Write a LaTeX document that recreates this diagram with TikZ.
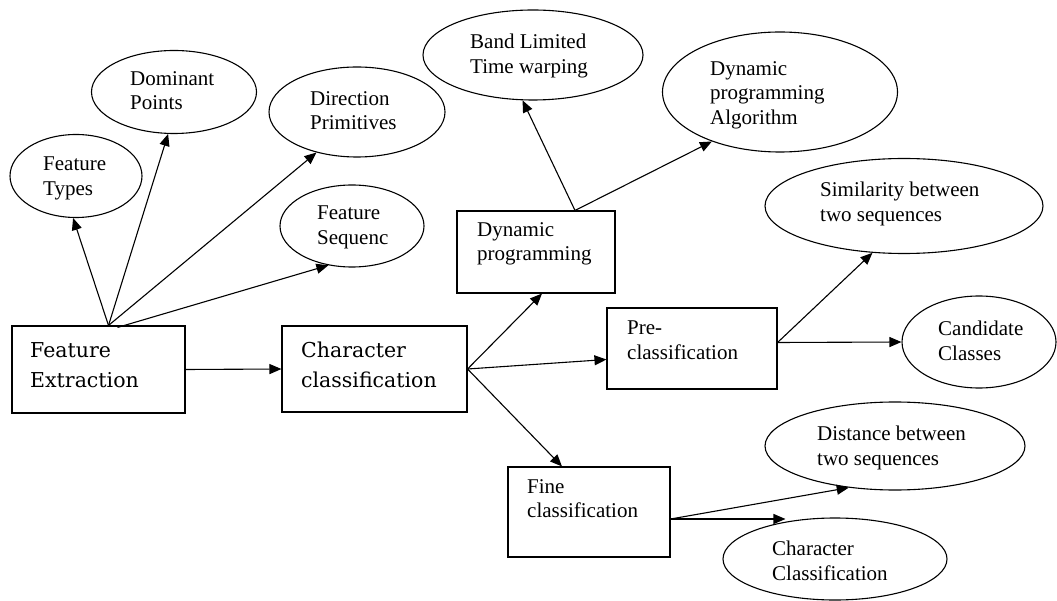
\documentclass[tikz,border=0pt]{standalone}
\usepackage{fontspec}
\setmainfont{Liberation Serif}
\newfontfamily\bigserif{DejaVu Serif}
\usetikzlibrary{shapes.geometric,arrows.meta}
\begin{document}
\begin{tikzpicture}[x=1pt,y=-1pt,
  ell/.style={draw, ellipse, line width=1.1pt, inner sep=0pt},
  boxn/.style={draw, rectangle, line width=1.1pt, inner sep=0pt},
  lbl/.style={anchor=north west, inner sep=0pt, align=left, font=\fontsize{21}{24.5}\selectfont},
  blbl/.style={anchor=north west, inner sep=0pt, align=left, font=\bigserif\fontsize{20.5}{30}\selectfont},
  arr/.style={-{Triangle[length=12pt,width=10pt]}, line width=1.1pt}]
\useasboundingbox (0,0) rectangle (1057,601);

% boxes
\node[boxn, minimum width=173pt, minimum height=87pt] (FE) at (98.5,369.5) {};
\node[blbl] (tFE) at (30,342) {Feature\\Extraction};
\node[boxn, minimum width=185pt, minimum height=86pt] (CC) at (374.5,369) {};
\node[blbl] (tCC) at (301,342) {Character\\classification};
\node[boxn, minimum width=158pt, minimum height=82pt] (DP) at (536,252) {};
\node[lbl] (tDP) at (477,222) {Dynamic\\programming};
\node[boxn, minimum width=170pt, minimum height=81pt] (PC) at (692,348.5) {};
\node[lbl] (tPC) at (627,321) {Pre-\\classification};
\node[boxn, minimum width=162pt, minimum height=90pt] (FC) at (589,512) {};
\node[lbl] (tFC) at (527,479) {Fine\\classification};

% ellipses
\node[ell, minimum width=132pt, minimum height=83pt] (FT) at (76,176) {};
\node[lbl] (tFT) at (43,157) {Feature\\Types};
\node[ell, minimum width=165pt, minimum height=83pt] (DomP) at (174,92) {};
\node[lbl] (tDomP) at (130,71) {Dominant\\Points};
\node[ell, minimum width=176pt, minimum height=90pt] (DirP) at (357,112) {};
\node[lbl] (tDirP) at (310,91) {Direction\\Primitives};
\node[ell, minimum width=144pt, minimum height=82pt] (FS) at (352,226) {};
\node[lbl] (tFS) at (317,206) {Feature\\Sequenc};
\node[ell, minimum width=220pt, minimum height=90pt] (BL) at (533,55) {};
\node[lbl] (tBL) at (470,34) {Band Limited\\Time warping};
\node[ell, minimum width=235pt, minimum height=120pt] (DPA) at (780,92) {};
\node[lbl] (tDPA) at (710,61) {Dynamic\\programming\\Algorithm};
\node[ell, minimum width=278pt, minimum height=95pt] (Sim) at (904,206) {};
\node[lbl] (tSim) at (820,182) {Similarity between\\two sequences};
\node[ell, minimum width=154pt, minimum height=92pt] (Cand) at (979,342) {};
\node[lbl] (tCand) at (938,321) {Candidate\\Classes};
\node[ell, minimum width=260pt, minimum height=88pt] (Dist) at (895,446) {};
\node[lbl] (tDist) at (817,426) {Distance between\\two sequences};
\node[ell, minimum width=224pt, minimum height=82pt] (ChC) at (835,559) {};
\node[lbl] (tChC) at (772,541) {Character\\Classification};

% origin points
\coordinate (feo) at ([xshift=10pt]FE.north);
\coordinate (feo2) at ([xshift=19pt,yshift=-2pt]FE.north);
\coordinate (dpo) at ([xshift=39pt]DP.north);
\coordinate (pco) at ([yshift=6pt]PC.east);
\coordinate (fco) at ([yshift=-7pt]FC.east);

% connectors
\draw[arr] (feo) -- (FT.266);
\draw[arr] (feo) -- (DomP.262);
\draw[arr] (feo) -- (DirP.225);
\draw[arr] (feo2) -- (FS.239);
\draw[arr] (FE.east) -- (CC.west);
\draw[arr] (CC.east) -- ([xshift=6pt]DP.south);
\draw[arr] (CC.east) -- ([yshift=-11pt]PC.west);
\draw[arr] (CC.east) -- ([xshift=-27pt]FC.north);
\draw[arr] (dpo) -- (BL.257);
\draw[arr] (dpo) -- (DPA.216);
\draw[arr] (pco) -- (Cand.west);
\draw[arr] (pco) -- (Sim.236);
\draw[arr] (fco) -- (Dist.222);
\draw[arr] (fco) -- (fco -| ChC.143);
\end{tikzpicture}
\end{document}
